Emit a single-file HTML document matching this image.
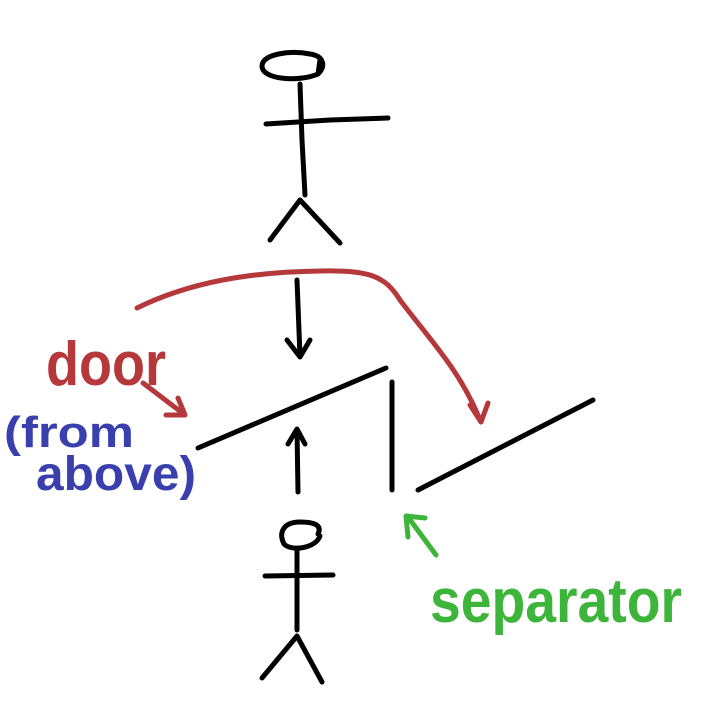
<!DOCTYPE html>
<html><head><meta charset="utf-8"><style>html,body{margin:0;padding:0;background:#fff}svg{display:block}</style></head>
<body>
<svg width="704" height="704" viewBox="0 0 704 704" xmlns="http://www.w3.org/2000/svg">
<g fill="none" stroke="#000" stroke-width="5" stroke-linecap="round" stroke-linejoin="round">
<path d="M318,74 C326,66 324,56 310,54 C290,50 262,54 262,66 C262,80 300,82 318,74 L320,60"/>
<path d="M300,84 L302,140 L305,195"/>
<path d="M266,124 L330,120 L388,118"/>
<path d="M300,200 L270,240 M300,200 L340,243"/>
<path d="M297,280 L300,356 M287,340 L300,357 L310,340"/>
<path d="M198,448 L386,368"/>
<path d="M392,382 L392,490"/>
<path d="M418,490 L593,400"/>
<path d="M298,492 L297,430 M288,444 L297,429 L305,444"/>
<path d="M318,534 C322,526 316,522 300,522 C284,522 278,532 284,544 C292,552 316,548 320,536"/>
<path d="M297,550 L297,630"/>
<path d="M265,576 L333,575"/>
<path d="M297,636 L262,678 M297,636 L322,682"/>
</g>
<g fill="none" stroke="#b5383a" stroke-width="5" stroke-linecap="round" stroke-linejoin="round">
<path d="M137,308 C190,282 250,272 320,271 C370,270 385,276 400,300 C430,340 460,370 480,420"/>
<path d="M470,405 L481,422 L488,403"/>
<path d="M143,383 L185,415 M178,398 L185,415 L166,415"/>
</g>
<g fill="none" stroke="#3db53a" stroke-width="5" stroke-linecap="round" stroke-linejoin="round">
<path d="M436,555 L408,517 M408,537 L406,516 L425,518"/>
</g>
<text x="46" y="385" font-family="Liberation Sans, sans-serif" font-weight="bold" font-size="62" fill="#b5383a" textLength="120" lengthAdjust="spacingAndGlyphs">door</text>
<text x="4" y="447" font-family="Liberation Sans, sans-serif" font-weight="bold" font-size="44" fill="#3a3fae" textLength="130" lengthAdjust="spacingAndGlyphs">(from</text>
<text x="36" y="490" font-family="Liberation Sans, sans-serif" font-weight="bold" font-size="48" fill="#3a3fae" textLength="160" lengthAdjust="spacingAndGlyphs">above)</text>
<text x="430" y="622" font-family="Liberation Sans, sans-serif" font-weight="bold" font-size="62" fill="#3db53a" textLength="252" lengthAdjust="spacingAndGlyphs">separator</text>
</svg>
</body></html>
